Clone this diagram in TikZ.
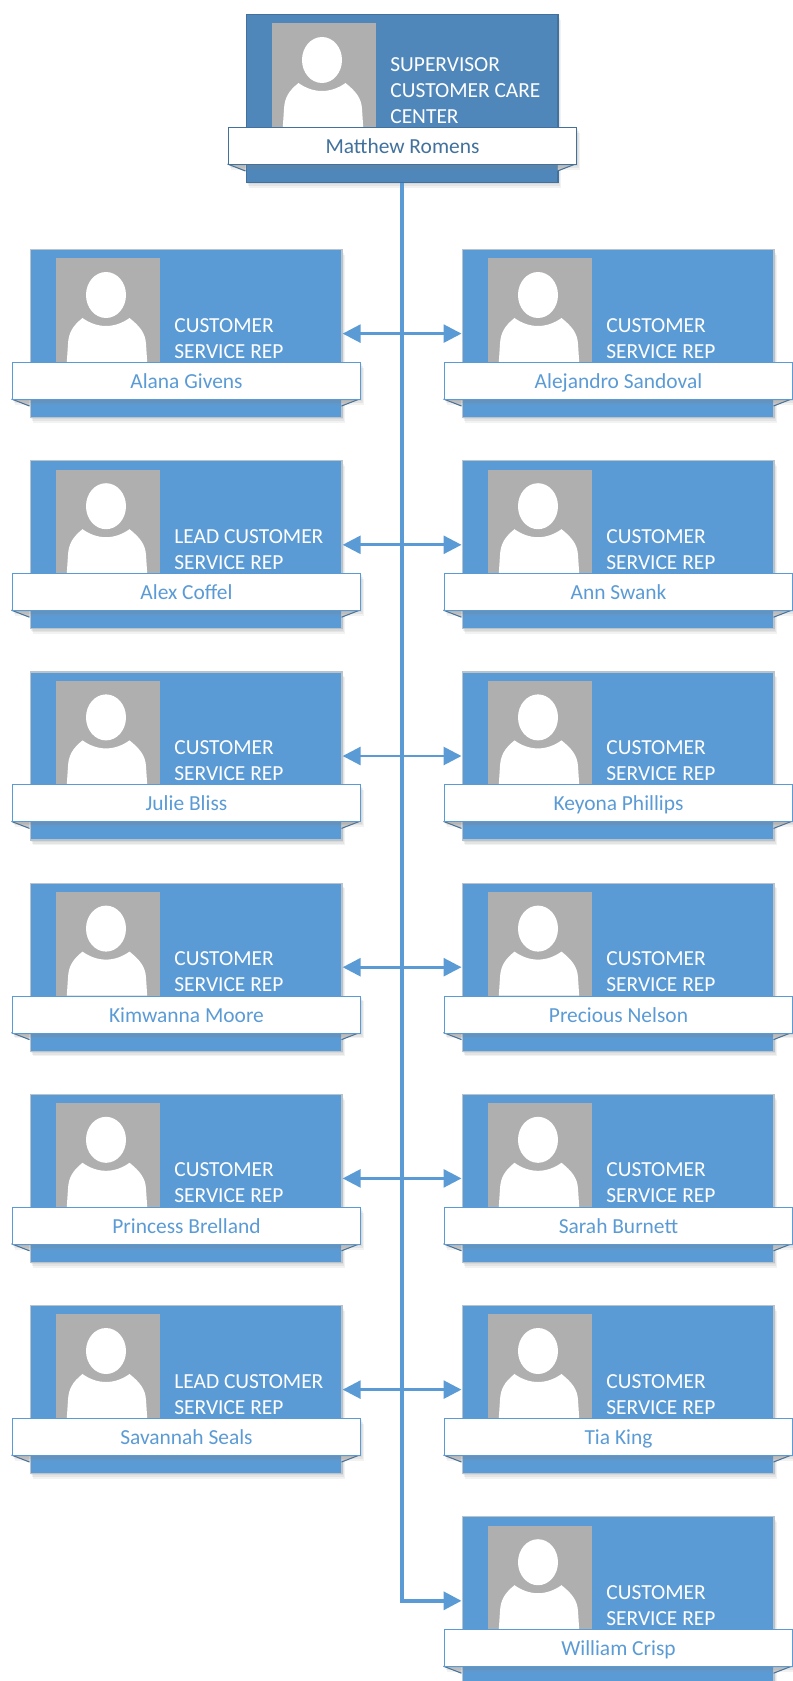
\documentclass[tikz,border=0pt]{standalone}
\usepackage{fontspec}
\setmainfont{Carlito}
\usetikzlibrary{arrows.meta,shadows}
\definecolor{cardblue}{HTML}{5B9BD5}
\definecolor{topblue}{HTML}{4F87BA}
\definecolor{darkblue}{HTML}{41719C}
\definecolor{cardedge}{HTML}{B9C3CC}
\definecolor{photogray}{HTML}{AFAFAF}
\tikzset{
  softshadow/.style={drop shadow={opacity=0.12,shadow xshift=0.6pt,shadow yshift=-1pt},drop shadow={opacity=0.12,shadow xshift=1.2pt,shadow yshift=-2pt},drop shadow={opacity=0.1,shadow xshift=1.8pt,shadow yshift=-3pt}},
  cardbox/.style={rectangle,minimum width=6.24cm,minimum height=3.36cm,inner sep=0pt,line width=0.7pt,anchor=north west,softshadow},
  photobox/.style={rectangle,fill=photogray,minimum width=2.08cm,minimum height=2.08cm,inner sep=0pt,anchor=north west},
  titletext/.style={text=white,inner sep=0pt,anchor=south west,align=left,font=\fontsize{12.2}{14.8}\selectfont},
  namebox/.style={rectangle,fill=white,minimum width=6.98cm,minimum height=0.74cm,inner sep=0pt,line width=0.6pt,anchor=north west,softshadow,text height=10.6pt,text depth=2.2pt,font=\fontsize{12.2}{14.8}\selectfont},
  link/.style={cardblue,line width=1.6pt}
}
% name, x, y, fill, edge, ribbon colour, title, person
\newcommand{\orgcard}[8]{
\begin{scope}[shift={(#2,#3)}]
\node[cardbox,fill=#4,draw=#5] (#1) at (0,0) {};
\node[photobox] (#1-photo) at (26.5,9) {};
\fill[white] (76.5,46) ellipse (20 and 23);
\fill[white] (37.3,113) -- (38.5,95) .. controls (39,84) and (43,77) .. (53,69) .. controls (60,74) and (68,77) .. (76.5,77) .. controls (85,77) and (93,74) .. (100,69) .. controls (110,77) and (116,84) .. (116.5,95) -- (117.7,113) -- cycle;
\node[titletext] (#1-title) at (144.5,109.5) {#7};
\fill[photogray!60] (-18,150) -- (0,157) -- (0,150) -- cycle;
\fill[photogray!60] (330,150) -- (312,157) -- (312,150) -- cycle;
\draw[darkblue,line width=0.6pt] (-18,150) -- (0,157);
\draw[darkblue,line width=0.6pt] (330,150) -- (312,157);
\node[namebox,draw=#6,text=#6] (#1-name) at (-18,113) {#8};
\end{scope}
}
\begin{document}
\begin{tikzpicture}[x=0.02cm,y=-0.02cm]
\useasboundingbox (0,0) rectangle (793,1681);
\pgfmathsetmacro{\a}{29.5}
\pgfmathsetmacro{\b}{461.5}
\pgfmathsetmacro{\d}{211.2}
\orgcard{matthew}{245.5}{14}{topblue}{darkblue}{darkblue}{SUPERVISOR\\CUSTOMER CARE\\CENTER}{Matthew Romens}
\orgcard{alana}{\a}{249}{cardblue}{cardedge}{cardblue}{CUSTOMER\\SERVICE REP}{Alana Givens}
\orgcard{alejandro}{\b}{249}{cardblue}{cardedge}{cardblue}{CUSTOMER\\SERVICE REP}{Alejandro Sandoval}
\orgcard{alex}{\a}{249+\d}{cardblue}{cardedge}{cardblue}{LEAD CUSTOMER\\SERVICE REP}{Alex Coffel}
\orgcard{ann}{\b}{249+\d}{cardblue}{cardedge}{cardblue}{CUSTOMER\\SERVICE REP}{Ann Swank}
\orgcard{julie}{\a}{249+2*\d}{cardblue}{cardedge}{cardblue}{CUSTOMER\\SERVICE REP}{Julie Bliss}
\orgcard{keyona}{\b}{249+2*\d}{cardblue}{cardedge}{cardblue}{CUSTOMER\\SERVICE REP}{Keyona Phillips}
\orgcard{kimwanna}{\a}{249+3*\d}{cardblue}{cardedge}{cardblue}{CUSTOMER\\SERVICE REP}{Kimwanna Moore}
\orgcard{precious}{\b}{249+3*\d}{cardblue}{cardedge}{cardblue}{CUSTOMER\\SERVICE REP}{Precious Nelson}
\orgcard{princess}{\a}{249+4*\d}{cardblue}{cardedge}{cardblue}{CUSTOMER\\SERVICE REP}{Princess Brelland}
\orgcard{sarah}{\b}{249+4*\d}{cardblue}{cardedge}{cardblue}{CUSTOMER\\SERVICE REP}{Sarah Burnett}
\orgcard{savannah}{\a}{249+5*\d}{cardblue}{cardedge}{cardblue}{LEAD CUSTOMER\\SERVICE REP}{Savannah Seals}
\orgcard{tia}{\b}{249+5*\d}{cardblue}{cardedge}{cardblue}{CUSTOMER\\SERVICE REP}{Tia King}
\orgcard{william}{\b}{249+6*\d}{cardblue}{cardedge}{cardblue}{CUSTOMER\\SERVICE REP}{William Crisp}
\draw[link,line width=2pt,-{Triangle[length=10.2pt,width=10.2pt]}] (matthew.south) |- (william.west);
\draw[link,{Triangle[length=10.2pt,width=10.2pt]}-{Triangle[length=10.2pt,width=10.2pt]}] (alana.east) -- (alejandro.west);
\draw[link,{Triangle[length=10.2pt,width=10.2pt]}-{Triangle[length=10.2pt,width=10.2pt]}] (alex.east) -- (ann.west);
\draw[link,{Triangle[length=10.2pt,width=10.2pt]}-{Triangle[length=10.2pt,width=10.2pt]}] (julie.east) -- (keyona.west);
\draw[link,{Triangle[length=10.2pt,width=10.2pt]}-{Triangle[length=10.2pt,width=10.2pt]}] (kimwanna.east) -- (precious.west);
\draw[link,{Triangle[length=10.2pt,width=10.2pt]}-{Triangle[length=10.2pt,width=10.2pt]}] (princess.east) -- (sarah.west);
\draw[link,{Triangle[length=10.2pt,width=10.2pt]}-{Triangle[length=10.2pt,width=10.2pt]}] (savannah.east) -- (tia.west);
\end{tikzpicture}
\end{document}
